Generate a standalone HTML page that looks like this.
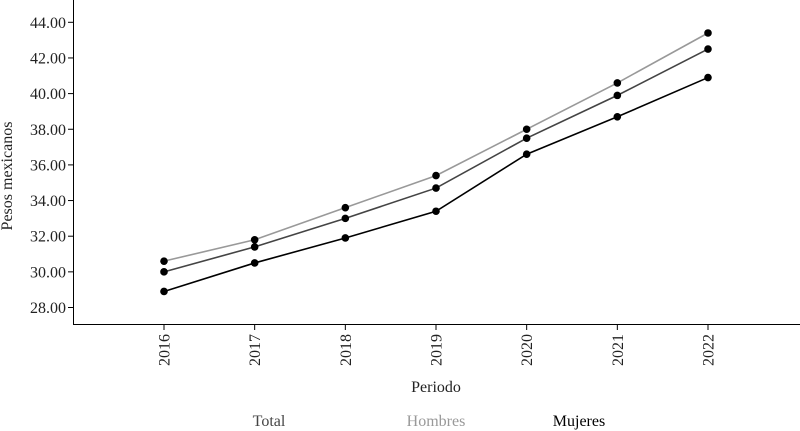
<!DOCTYPE html>
<html><head><meta charset="utf-8"><style>
body{margin:0;background:#fff}
svg{display:block;font-family:"Liberation Serif",serif}
</style></head><body>
<svg id="c" width="800" height="431"></svg>
<script>
const categories=["2016","2017","2018","2019","2020","2021","2022"];
const yTicks=[28,30,32,34,36,38,40,42,44];
const seriesNames=["Hombres","Total","Mujeres"];
const hombres=[30.6,31.8,33.6,35.4,38.0,40.6,43.4];
const total=[30.0,31.4,33.0,34.7,37.5,39.9,42.5];
const mujeres=[28.9,30.5,31.9,33.4,36.6,38.7,40.9];
const svg=document.getElementById('c');
const NS='http://www.w3.org/2000/svg';
const y=v=>307.5-(v-28)*(285.2/16);
const x=i=>164+i*(544/6);
function mk(t,a,txt){const e=document.createElementNS(NS,t);for(const k in a)e.setAttribute(k,a[k]);if(txt!==undefined)e.textContent=txt;svg.appendChild(e);return e;}
let e;
e=mk('line',{x1:73.5,y1:0,x2:73.5,y2:324.5,stroke:'#000','stroke-width':1});


e=mk('line',{x1:73,y1:324.5,x2:800,y2:324.5,stroke:'#000','stroke-width':1});


yTicks.forEach(v=>{
 e=mk('line',{x1:68,y1:y(v),x2:73.5,y2:y(v),stroke:'#000'});
 
 
 e=mk('text',{x:66,y:y(v)+5.5,'text-anchor':'end','font-size':16,fill:'#222'},v.toFixed(2));
 
 
});
categories.forEach((c,i)=>{
 e=mk('line',{x1:x(i),y1:324.5,x2:x(i),y2:330,stroke:'#000'});
 
 
 e=mk('text',{x:0,y:0,transform:`translate(${x(i)+5.5},334) rotate(-90)`,'text-anchor':'end','font-size':16,fill:'#222'},c);
 
 
});
e=mk('text',{x:0,y:0,transform:'translate(12,176) rotate(-90)','text-anchor':'middle','font-size':16,fill:'#222'},'Pesos mexicanos');


e=mk('text',{x:436,y:392,'text-anchor':'middle','font-size':16,fill:'#222'},'Periodo');


const data=[hombres,total,mujeres];
const colors=['#999','#444','#000'];
data.forEach((s,si)=>{
 e=mk('polyline',{points:s.map((v,i)=>x(i)+','+y(v)).join(' '),fill:'none',stroke:colors[si],'stroke-width':1.6});
 
 
 s.forEach((v,i)=>{
  e=mk('circle',{cx:x(i),cy:y(v),r:3.8,fill:'#000'});
  
  
 });
});
const leg=[["Total",269,'#444'],["Hombres",436,'#999'],["Mujeres",579,'#000']];
leg.forEach(l=>{
 e=mk('text',{x:l[1],y:426,'text-anchor':'middle','font-size':16,fill:l[2]},l[0]);
 
 
});
</script>
</body></html>
